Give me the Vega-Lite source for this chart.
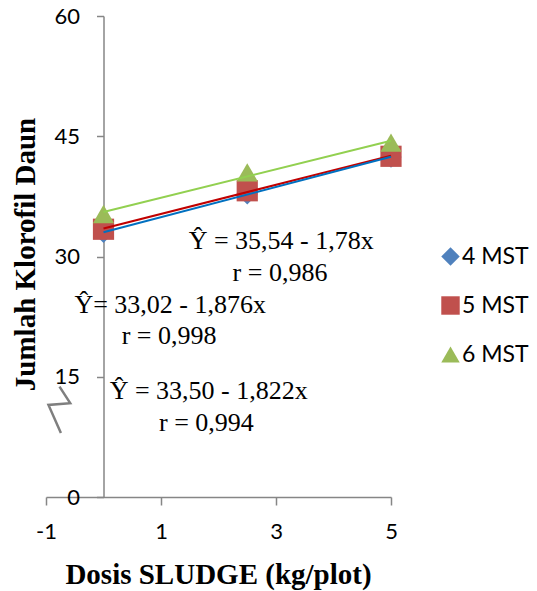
{
  "$schema": "https://vega.github.io/schema/vega-lite/v6.json",
  "width": 345,
  "height": 481,
  "autosize": {"type": "none"},
  "padding": {"left": 46, "top": 16, "right": 146, "bottom": 94},
  "background": "white",
  "config": {
    "view": {"stroke": null},
    "axis": {"grid": false}
  },
  "datasets": {
    "points": [
      {"series": "4 MST", "dose": 0, "value": 33.0},
      {"series": "4 MST", "dose": 2.5, "value": 37.8},
      {"series": "4 MST", "dose": 5, "value": 42.4},
      {"series": "5 MST", "dose": 0, "value": 33.4},
      {"series": "5 MST", "dose": 2.5, "value": 38.2},
      {"series": "5 MST", "dose": 5, "value": 42.5},
      {"series": "6 MST", "dose": 0, "value": 35.3},
      {"series": "6 MST", "dose": 2.5, "value": 40.5},
      {"series": "6 MST", "dose": 5, "value": 44.2}
    ],
    "notes": [
      {"label": "Ŷ = 35,54 - 1,78x", "x": 3.09, "y": 31.9},
      {"label": "r = 0,986", "x": 3.07, "y": 27.9},
      {"label": "Ŷ= 33,02 - 1,876x", "x": 1.16, "y": 24.0},
      {"label": "r = 0,998", "x": 1.14, "y": 20.1},
      {"label": "Ŷ = 33,50 - 1,822x", "x": 1.83, "y": 13.2},
      {"label": "r = 0,994", "x": 1.79, "y": 9.25}
    ],
    "brk": [
      {"x": -0.765, "y": 13.77, "o": 1},
      {"x": -0.579, "y": 11.71, "o": 2},
      {"x": -0.957, "y": 11.49, "o": 3},
      {"x": -0.741, "y": 7.97, "o": 4}
    ]
  },
  "layer": [
    {
      "data": {"name": "points"},
      "mark": {"type": "point", "filled": true, "size": 450, "opacity": 1},
      "encoding": {
        "x": {
          "field": "dose", "type": "quantitative",
          "scale": {"domain": [-1, 5], "nice": false, "zero": false},
          "axis": {
            "values": [-1, 1, 3, 5],
            "labelExpr": "'' + datum.value",
            "title": "Dosis SLUDGE (kg/plot)",
            "domainColor": "#868686", "domainWidth": 1.5,
            "tickColor": "#868686", "tickWidth": 1.5, "tickSize": 8,
            "labelFont": "Lato", "labelFontSize": 22, "labelColor": "#000000",
            "labelPadding": 16, "labelFlush": false, "labelOverlap": false,
            "titleFont": "Liberation Serif", "titleFontSize": 29, "titleFontWeight": "bold",
            "titleColor": "#000000", "titleX": 172, "titleY": 86, "titleBaseline": "alphabetic"
          }
        },
        "y": {
          "field": "value", "type": "quantitative",
          "scale": {"domain": [0, 60], "nice": false},
          "axis": {
            "values": [0, 15, 30, 45, 60],
            "labelExpr": "'' + datum.value",
            "offset": -57.5,
            "title": "Jumlah Klorofil Daun",
            "domainColor": "#868686", "domainWidth": 1.5,
            "tickColor": "#868686", "tickWidth": 1.5, "tickSize": 7,
            "labelFont": "Lato", "labelFontSize": 22, "labelColor": "#000000",
            "labelPadding": 17, "labelFlush": false, "labelOverlap": false,
            "titleFont": "Liberation Serif", "titleFontSize": 29, "titleFontWeight": "bold",
            "titleColor": "#000000", "titleX": -69, "titleY": 238, "titleBaseline": "alphabetic", "titleAngle": -90
          }
        },
        "color": {
          "field": "series", "type": "nominal",
          "scale": {"domain": ["4 MST", "5 MST", "6 MST"], "range": ["#4F81BD", "#C0504D", "#9BBB59"]},
          "legend": {
            "orient": "none", "legendX": 393, "legendY": 229, "padding": 0, "title": null,
            "labelFont": "Lato", "labelFontSize": 23, "labelColor": "#000000",
            "labelOffset": 0, "rowPadding": 25, "symbolSize": 340, "symbolStrokeWidth": 0
          }
        },
        "shape": {
          "field": "series", "type": "nominal",
          "scale": {"domain": ["4 MST", "5 MST", "6 MST"], "range": ["diamond", "square", "triangle-up"]},
          "legend": {
            "orient": "none", "legendX": 393, "legendY": 229, "padding": 0, "title": null,
            "labelFont": "Lato", "labelFontSize": 23, "labelColor": "#000000",
            "labelOffset": 0, "rowPadding": 25, "symbolSize": 340, "symbolStrokeWidth": 0
          }
        }
      }
    },
    {
      "data": {"name": "points"},
      "transform": [
        {"filter": "datum.series === '5 MST'"},
        {"regression": "value", "on": "dose", "extent": [0, 5]}
      ],
      "mark": {"type": "line", "strokeWidth": 2, "color": "#C00000"},
      "encoding": {
        "x": {"field": "dose", "type": "quantitative"},
        "y": {"field": "value", "type": "quantitative"}
      }
    },
    {
      "data": {"name": "points"},
      "transform": [
        {"filter": "datum.series === '4 MST'"},
        {"regression": "value", "on": "dose", "extent": [0, 5]}
      ],
      "mark": {"type": "line", "strokeWidth": 2, "color": "#0070C0"},
      "encoding": {
        "x": {"field": "dose", "type": "quantitative"},
        "y": {"field": "value", "type": "quantitative"}
      }
    },
    {
      "data": {"name": "points"},
      "transform": [
        {"filter": "datum.series === '6 MST'"},
        {"regression": "value", "on": "dose", "extent": [0, 5]}
      ],
      "mark": {"type": "line", "strokeWidth": 2, "color": "#92D050"},
      "encoding": {
        "x": {"field": "dose", "type": "quantitative"},
        "y": {"field": "value", "type": "quantitative"}
      }
    },
    {
      "data": {"name": "brk"},
      "mark": {"type": "line", "color": "#7F7F7F", "strokeWidth": 2.5},
      "encoding": {
        "x": {"field": "x", "type": "quantitative"},
        "y": {"field": "y", "type": "quantitative"},
        "order": {"field": "o", "type": "quantitative"}
      }
    },
    {
      "data": {"name": "notes"},
      "mark": {"type": "text", "font": "Liberation Serif", "fontSize": 26, "align": "center", "baseline": "middle", "color": "#000000"},
      "encoding": {
        "x": {"field": "x", "type": "quantitative"},
        "y": {"field": "y", "type": "quantitative"},
        "text": {"field": "label", "type": "nominal"}
      }
    }
  ]
}
